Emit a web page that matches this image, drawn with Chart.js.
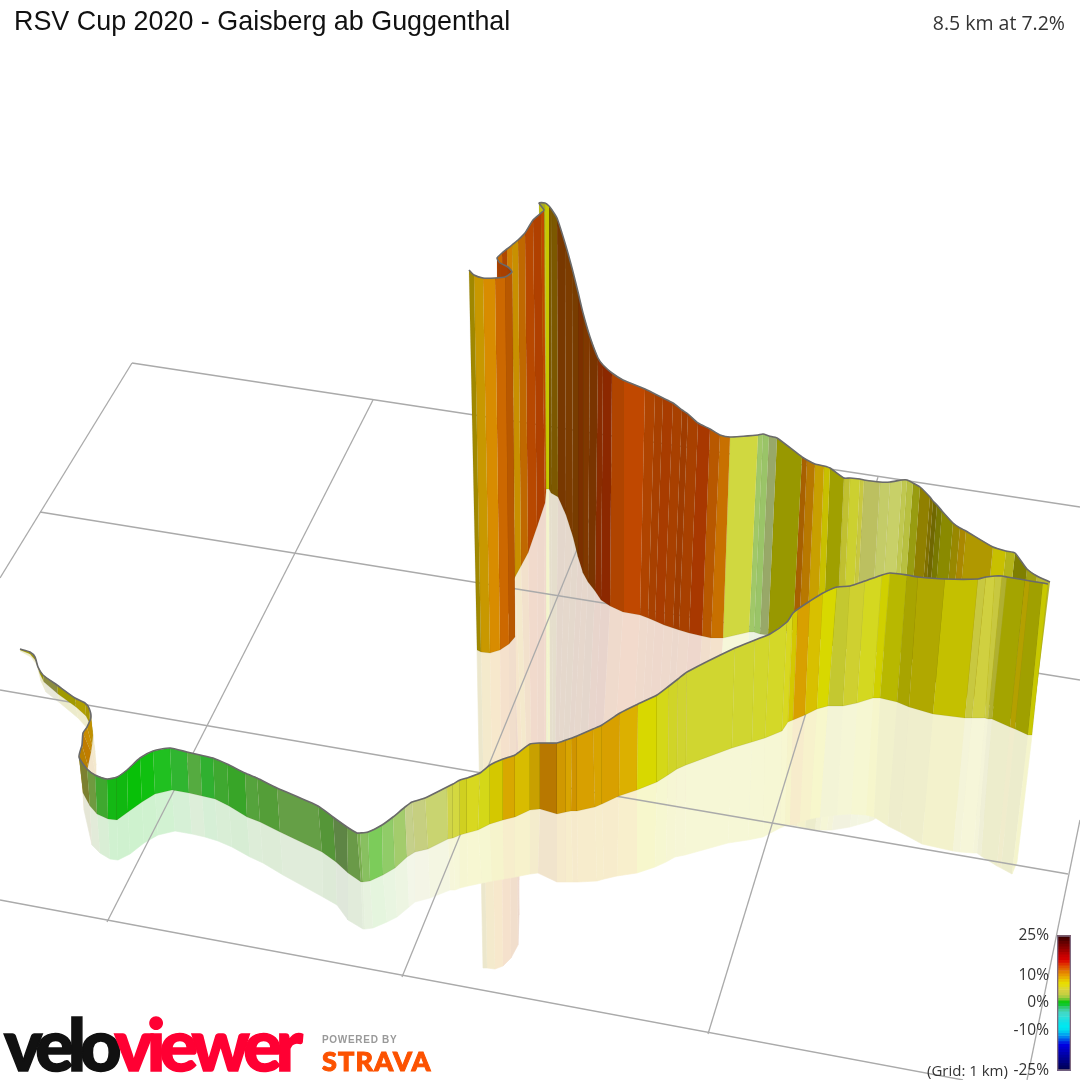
<!DOCTYPE html>
<html><head><meta charset="utf-8">
<script src="https://cdn.jsdelivr.net/npm/chart.js@4"></script>
<style>
html,body{margin:0;padding:0;background:#fff;width:1080px;height:1080px;overflow:hidden}
canvas{position:absolute}
.t{position:absolute;white-space:nowrap;line-height:1}
</style></head><body>
<div style="position:absolute;left:0;top:0;width:1080px;height:1080px"><canvas id="main" width="1080" height="1080"></canvas></div>
<div style="position:absolute;left:990px;top:918px;width:90px;height:170px"><canvas id="scale" width="90" height="170"></canvas></div>
<div class="t" style="left:14px;top:6px;font:26.9px 'Liberation Sans';color:#111">RSV Cup 2020 - Gaisberg ab Guggenthal</div>
<div class="t" style="right:15px;top:9px;font:19.5px 'Open Sans';color:#333">8.5 km at 7.2%</div>
<div class="t" style="left:927px;top:1060px;font:15px 'Open Sans';color:#333">(Grid: 1 km)</div>
<div class="t" style="left:4px;top:1000px;font:900 72px 'Lato';letter-spacing:-6px;color:#111;-webkit-text-stroke:1.5px currentColor">velo<span style="color:#ff0033">viewer</span></div>
<div class="t" style="left:322px;top:1034px;font:bold 10px 'Liberation Sans';letter-spacing:.7px;color:#999">POWERED BY</div>
<div class="t" style="left:322px;top:1044px;font:900 27px 'Lato';letter-spacing:1.2px;color:#fc5200;-webkit-text-stroke:1px currentColor">STRAVA</div>
<script>
// ----- grid lines (pixel-plane scale 0..1080)
const gridX1=[132,40,0,0,132,373,623,878,1080];
const gridY1=[363,512,690,900,363,400,437,477,820];
const gridX2=[1080,1080,1068,963,0,107,402,708,1027];
const gridY2=[507,680,874,1080,578,922,977,1034,1080];

// ----- near wall: start of the climb → far right corner
const nearTopX=[20,30,35,38,43,57,75,85,89,91,87,83,82,79,87,95,107,117,127,140,153,170,187,200,213,227,245,257,277,318,333,347,357,360,368,382,393,405,412,425,447,453,460,467,480,490,503,515,530,540,557,566,572,577,593,602,620,638,657,669,678,687,735,755,770,787,793,798,810,823,837,850,865,882,890,907,918,945,978,986,995,1002,1007,1025,1030,1043,1048];
const nearTopY=[649,652,657,667,675,685,698,703,708,717,727,733,745,757,769,775,779,777,770,758,751,748,752,755,758,764,773,778,788,806,817,827,833,833,832,825,817,807,802,798,787,784,780,778,773,765,759,755,744,743,743,740,738,736,729,725,713,704,695,686,679,672,648,640,634,622,613,609,601,593,587,586,581,575,573,575,577,579,579,577,576,576,577,580,581,583,584];
const nearBaseX=[20,30,36,40,44,58,76,86,90,93,92,91,88,83,90,97,108,117,128,142,155,172,189,202,215,229,247,260,280,322,336,348,361,363,370,383,395,407,415,428,448,453,460,467,478,490,503,515,530,540,557,566,571,577,595,602,619,637,657,668,677,686,732,752,765,782,788,793,805,817,828,843,857,873,880,897,909,933,965,972,985,988,992,1010,1015,1028,1032];
const nearBaseY=[650,654,661,674,682,694,707,716,724,735,745,752,766,793,806,814,819,820,812,802,794,790,793,796,799,806,817,822,832,852,862,873,882,882,881,875,868,857,852,849,839,838,835,833,830,824,820,817,810,809,814,812,811,811,807,804,796,790,782,775,769,765,748,742,738,731,722,720,715,709,706,706,703,698,698,702,707,714,718,718,718,719,719,727,729,735,735];
const nearGhostX=[20,31,37,41,46,60,78,88,92,95,96,96,95,84,92,100,110,118,130,144,158,175,192,205,218,232,250,263,283,323,337,348,363,365,373,387,397,409,415,430,450,455,460,468,482,492,504,515,530,538,557,566,573,578,597,604,617,637,655,666,675,685,728,748,763,780,785,790,800,810,820,837,851,866,874,888,900,922,953,960,973,977,981,997,1001,1012,1017];
const nearGhostY=[651,657,665,681,692,703,718,729,740,752,765,775,790,810,845,853,859,860,854,843,835,831,834,837,841,847,857,863,875,897,905,920,929,929,928,922,917,907,902,898,890,890,888,886,883,881,879,877,874,873,882,882,882,882,881,879,876,873,867,862,857,855,843,840,837,828,826,825,822,819,817,815,814,815,817,826,832,844,851,852,853,853,856,866,868,874,862];
const nearColor=['#b0a800','#a89c00','#a09800','#9a9400','#8c8c40','#a09a00','#b0a000','#a89800','#a89800','#c09000','#c88c00','#c07c00','#b88000','#7c8030','#6f9a40','#3fa82f','#14b814','#10b810','#08c008','#10c010','#20c020','#30b530','#55ab40','#30b030','#3fa830','#38a528','#55a33c','#549e38','#659f46','#559638','#5e8545','#6a9a48','#7ab050','#88c060','#7ccc5a','#90cc68','#a3cc6c','#c5d08a','#c6cf80','#c9d470','#d0d448','#d4d840','#d0d020','#d8d820','#d4d818','#d4c800','#d8a800','#d8bc00','#c8a000','#b87800','#d09800','#d8a400','#d09400','#d8a000','#d8a400','#d8a000','#dcb000','#d8d800','#d4d818','#d0d428','#d0d430','#d0d630','#d0d630','#d2d72c','#d4d828','#d8d820','#d4c800','#d8a000','#d8c000','#d8d800','#c4c830','#cfd030','#d4d820','#d0d000','#b8b800','#a8a400','#b0a800','#c4c000','#c8c840','#d0d040','#c8c840','#b0b030','#a4a400','#b4a000','#a0a000','#c8c800'];

// ----- far wall: far right corner → summit → finish
const farTopX=[1050,1037,1027,1015,1006,993,966,960,953,942,937,933,930,920,913,907,902,890,880,864,860,850,844,830,824,815,807,802,777,769,763,758,730,720,710,698,688,682,673,663,655,645,623,612,603,598,590,583,578,572,565,557,552,549,545,539,544,541,533,525,518,512,507,502,497,500,508,512,505,495,483,474,469];
const farTopY=[582,576,569,553,551,547,531,528,523,511,505,501,497,487,483,480,480,482,482,480,479,478,478,468,466,464,460,457,438,436,434,435,437,435,429,423,414,410,403,398,394,389,380,373,365,358,337,313,292,268,243,218,210,206,203,203,210,213,220,233,240,245,249,253,258,263,267,272,277,278,278,275,270];
const farBaseX=[1031,1019,1010,998,990,978,952,946,940,929,924,920,917,908,901,895,891,879,870,855,851,842,836,823,817,807,799,793,768,760,754,749,723,711,702,689,679,673,664,655,648,640,623,610,601,595,588,583,578,573,566,558,551,549,546,546,546,545,537,528,521,515,511,505,500,503,511,515,509,500,490,481,477];
const farBaseY=[735,725,718,708,705,700,690,688,685,678,672,668,664,655,652,650,650,652,652,650,650,648,648,640,638,636,634,630,635,634,632,632,638,638,636,633,630,628,625,621,618,615,612,606,600,591,582,573,557,537,515,497,493,489,489,490,492,503,527,553,566,577,585,590,590,600,620,637,644,650,653,652,650];
const farGhostX=[1012,1000,990,975,965,950,930,925,918,905,900,896,892,885,880,873,868,857,850,832,827,820,815,805,797,790,782,778,755,748,742,737,712,700,690,678,668,662,654,645,638,630,612,600,592,585,578,572,568,562,558,555,553,550,548,546,546,544,538,532,528,525,522,520,519,519,519,518,511,503,495,487,483];
const farGhostY=[840,830,825,815,812,810,810,812,812,812,812,812,812,812,815,820,822,825,827,830,830,830,830,828,826,825,822,818,815,812,810,808,805,805,803,800,798,795,792,790,788,785,785,788,790,790,780,770,765,770,770,770,770,770,770,770,770,775,785,800,815,825,835,850,860,880,915,945,958,966,969,968,968];
const farColor=['#b8b830','#a0a010','#7f7f00','#b4b418','#c8c000','#b09800','#aa8800','#988800','#8a8a00','#787800','#706800','#807000','#908000','#989c10','#b8c040','#c0c850','#c8d068','#c4cc68','#bcc060','#c8c840','#ccd030','#c0c030','#a0a000','#c8c000','#c8a000','#b87800','#a86000','#989800','#98a868','#9ac468','#a0c868','#d0d840','#c87000','#b85800','#a83800','#a84000','#a03c00','#a84000','#a83c00','#a84000','#b04400','#c04800','#b04400','#8c2800','#8a2c00','#7a3400','#803800','#7c3000','#783c00','#7c3c00','#783800','#7c5800','#7c5800','#c8c800','#a8a820','#c0c010','#c04800','#b04000','#b84800','#c06800','#c89000','#d08000','#b04800','#c86800','#a84000','#a84000','#a03c00','#b85800','#cc6800','#d88c00','#c89800','#a08800'];

// ----- gradient key
const keyTicks=[25,10,0,-10,-25];
const keyFrom=[24,23,22,21,20,19,18,17,16,15,14,13,12,11,10,9,8,7,6,5,4,3,2,1,0,-1,-2,-3,-4,-5,-6,-7,-8,-9,-10,-11,-12,-13,-14,-15,-16,-17,-18,-19,-20,-21,-22,-23,-24,-25];
const keyColor=['#400000','#500000','#640000','#780000','#8c0000','#a00000','#b40000','#c80000','#d40000','#dc1000','#e03000','#e05000','#e06800','#e48000','#e89800','#e8b000','#e8c800','#e8dc00','#e4dc10','#dcd830','#d4d040','#c8d040','#a8cc40','#70c830','#10c810','#10c830','#30c870','#40d0a0','#40d8c8','#38dcd0','#28e0dc','#18e0e4','#08e4ec','#00e8f0','#00e0f0','#00c8f0','#00a8f0','#0080f0','#0050e8','#0020e4','#0000e0','#0000d0','#0000c0','#0000b0','#0000a0','#000090','#000080','#000070','#000060','#000050'];

const paleOf=h=>{const m=i=>Math.round(parseInt(h.slice(i,i+2),16)*.2+255*.8);return `rgb(${m(1)},${m(3)},${m(5)})`};
function strips(tx,ty,bx,by,col){
  return col.map((c,i)=>({data:[{x:tx[i],y:ty[i]},{x:tx[i+1],y:ty[i+1]},{x:bx[i+1],y:by[i+1]},{x:bx[i],y:by[i]}],c}));
}
const datasets=[];
const pale=s=>({data:s.data,showLine:true,pointRadius:0,fill:'shape',borderWidth:.6,borderColor:paleOf(s.c),backgroundColor:paleOf(s.c)});
strips(farBaseX,farBaseY,farGhostX,farGhostY,farColor).forEach(s=>datasets.push(pale(s)));
strips(nearBaseX,nearBaseY,nearGhostX,nearGhostY,nearColor).forEach(s=>datasets.push(pale(s)));
// grid sits on the pale reflection and under the coloured wall
gridX1.forEach((_,i)=>datasets.push({data:[{x:gridX1[i],y:gridY1[i]},{x:gridX2[i],y:gridY2[i]}],showLine:true,pointRadius:0,borderColor:'#aaaaaa',borderWidth:1.3,fill:false}));
const wall=s=>({data:s.data,showLine:true,pointRadius:0,fill:'shape',backgroundColor:s.c,borderColor:'rgba(70,70,0,.14)',borderWidth:.7});
strips(farTopX,farTopY,farBaseX,farBaseY,farColor).forEach(s=>datasets.push(wall(s)));
strips(nearTopX,nearTopY,nearBaseX,nearBaseY,nearColor).forEach(s=>datasets.push(wall(s)));
// top outline
const outline=(xs,ys)=>({data:xs.map((x,i)=>({x,y:ys[i]})),showLine:true,pointRadius:0,fill:false,borderColor:'#6a6a6a',borderWidth:1.6,borderJoinStyle:'round',tension:.2});
datasets.push(outline(farTopX,farTopY));
datasets.push(outline(nearTopX,nearTopY));
datasets.reverse(); // Chart.js paints the lowest index last

new Chart(document.getElementById('main'),{type:'scatter',data:{datasets},options:{
  responsive:false,animation:false,events:[],
  layout:{padding:0},
  plugins:{legend:{display:false},tooltip:{enabled:false},title:{display:false}},
  scales:{x:{type:'linear',min:0,max:1080,display:false},y:{type:'linear',min:0,max:1080,reverse:true,display:false}}
}});

const keySets=keyFrom.map((f,i)=>({data:[[f,f+1]],backgroundColor:keyColor[i],borderWidth:0,barPercentage:1,categoryPercentage:1,grouped:false}));
keySets.unshift({data:[[keyTicks[4],keyTicks[0]]],backgroundColor:'transparent',borderColor:'#806a80',borderWidth:1,barPercentage:1,categoryPercentage:1,grouped:false,borderSkipped:false});
new Chart(document.getElementById('scale'),{type:'bar',data:{labels:['key'],datasets:keySets},options:{
  responsive:false,animation:false,events:[],
  layout:{padding:{top:0,bottom:0,left:0,right:9}},
  plugins:{legend:{display:false},tooltip:{enabled:false}},
  scales:{
    x:{display:false},
    y:{type:'linear',min:-25,max:25,position:'left',grid:{display:false,drawTicks:false},border:{display:false},
       afterFit:s=>{s.width=67},
       afterBuildTicks:s=>{s.ticks=keyTicks.map(v=>({value:v}))},
       ticks:{color:'#333',padding:8,font:{family:'Open Sans',size:15.5},callback:v=>v+'%',autoSkip:false}}
  }
}});
</script>
</body></html>
